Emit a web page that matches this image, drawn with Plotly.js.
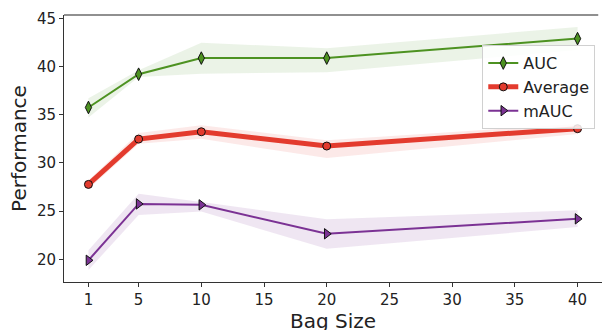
<!DOCTYPE html>
<html>
<head>
<meta charset="utf-8">
<script src="https://cdn.plot.ly/plotly-3.0.1.min.js"></script>
<style>html,body{margin:0;padding:0;background:#fff;}#chart{width:602px;height:330px;}</style>
</head>
<body>
<div id="chart"></div>
<script>
const bagSize = [1, 5, 10, 20, 40];
const xTicks = [1, 5, 10, 15, 20, 25, 30, 35, 40];

const aucMean  = [35.75, 39.2, 40.87, 40.87, 42.89];
const aucUpper = [36.7, 39.6, 42.45, 41.9, 44.1];
const aucLower = [34.7, 38.9, 39.25, 39.4, 41.7];

const avgMean  = [27.77, 32.47, 33.23, 31.75, 33.55];
const avgUpper = [28.2, 33.1, 33.9, 32.35, 34.05];
const avgLower = [27.3, 32.0, 32.5, 30.5, 33.0];

const mAucMean  = [19.9, 25.75, 25.65, 22.65, 24.2];
const mAucUpper = [20.95, 26.8, 25.95, 24.15, 25.1];
const mAucLower = [18.9, 24.6, 24.95, 21.1, 23.35];

const names = ['AUC', 'Average', 'mAUC'];
const colors = ['#4d9221', '#e33b2e', '#7b3294'];
const bands = ['rgba(77,146,33,0.11)', 'rgba(227,59,46,0.11)', 'rgba(123,50,148,0.12)'];

const series = [
  {mean: aucMean, up: aucUpper, lo: aucLower, width: 2, symbol: 'diamond-tall', size: 9},
  {mean: avgMean, up: avgUpper, lo: avgLower, width: 5, symbol: 'circle', size: 8},
  {mean: mAucMean, up: mAucUpper, lo: mAucLower, width: 2, symbol: 'triangle-right', size: 9}
];

const traces = [];
series.forEach((s, i) => {
  traces.push({x: bagSize, y: s.lo, mode: 'lines', line: {width: 0, color: bands[i]}, showlegend: false, hoverinfo: 'skip'});
  traces.push({x: bagSize, y: s.up, mode: 'lines', line: {width: 0, color: bands[i]}, fill: 'tonexty', fillcolor: bands[i], showlegend: false, hoverinfo: 'skip'});
});
series.forEach((s, i) => {
  traces.push({
    x: bagSize, y: s.mean, name: names[i], mode: 'lines+markers',
    line: {color: colors[i], width: s.width},
    marker: {symbol: s.symbol, size: s.size, color: colors[i], line: {color: '#111', width: 1}}
  });
});

const layout = {
  width: 602, height: 330,
  margin: {l: 64, r: 0, t: 15, b: 48},
  paper_bgcolor: '#fff', plot_bgcolor: '#fff',
  font: {family: 'DejaVu Sans', size: 15, color: '#222'},
  showlegend: true,
  legend: {
    x: 0.9875, y: 0.887, xanchor: 'right', yanchor: 'top',
    traceorder: 'normal',
    bgcolor: 'rgba(255,255,255,0.85)', bordercolor: '#d0d0d0', borderwidth: 1,
    font: {family: 'DejaVu Sans', size: 16, color: '#222'},
    tracegroupgap: 0, itemwidth: 30
  },
  xaxis: {
    range: [-0.95, 41.95], tickvals: xTicks, ticktext: xTicks.map(String),
    showgrid: false, zeroline: false, showline: true, linecolor: '#333', linewidth: 1,
    ticks: 'outside', ticklen: 4, tickcolor: '#333',
    tickfont: {family: 'DejaVu Sans', size: 15, color: '#222'}
  },
  yaxis: {
    range: [17.65, 45.34], tickvals: [20, 25, 30, 35, 40, 45],
    showgrid: false, zeroline: false, showline: true, linecolor: '#333', linewidth: 1,
    ticks: 'outside', ticklen: 4, tickcolor: '#333',
    tickfont: {family: 'DejaVu Sans', size: 15, color: '#222'},
    title: {text: 'Performance', font: {family: 'DejaVu Sans', size: 20, color: '#222'}, standoff: 4}
  },
  annotations: [
    {text: 'Bag Size', xref: 'paper', yref: 'paper', x: 0.5, y: -0.145, xanchor: 'center', yanchor: 'middle',
     showarrow: false, font: {family: 'DejaVu Sans', size: 20, color: '#222'}}
  ],
  shapes: [
    {type: 'line', xref: 'paper', yref: 'paper', x0: 0, x1: 0.993, y0: 1, y1: 1, line: {color: '#222', width: 1.2}}
  ]
};

Plotly.newPlot('chart', traces, layout, {displayModeBar: false, staticPlot: true});
</script>
</body>
</html>
